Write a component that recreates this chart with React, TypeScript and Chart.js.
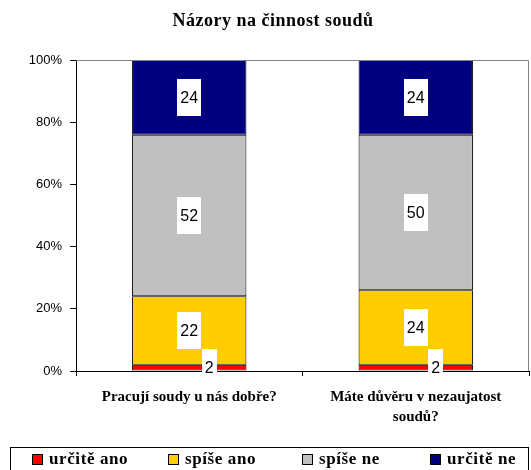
import React, { useEffect, useRef } from "react";
import { Chart, registerables } from "chart.js";

Chart.register(...registerables);

const title = "Názory na činnost soudů";
const categories: string[][] = [
  ["Pracují soudy u nás dobře?"],
  ["Máte důvěru v nezaujatost", "soudů?"],
];
const seriesNames = ["určitě ano", "spíše ano", "spíše ne", "určitě ne"];
const urciteAno = [2, 2];
const spiseAno = [22, 24];
const spiseNe = [52, 50];
const urciteNe = [24, 24];
const seriesColors = ["#FF0000", "#FFCC00", "#C0C0C0", "#000080"];
const yTicks = [0, 20, 40, 60, 80, 100];

const SERIF = "'Liberation Serif', 'Times New Roman', serif";
const SANS = "'Liberation Sans', Arial, sans-serif";

const decorPlugin = {
  id: "decor",
  afterDraw(chart: any) {
    const ctx = chart.ctx;
    const a = chart.chartArea;
    ctx.save();
    // plot area top/right border
    ctx.strokeStyle = "#808080";
    ctx.lineWidth = 1;
    ctx.beginPath();
    ctx.moveTo(a.left, a.top + 0.5);
    ctx.lineTo(a.right - 0.5, a.top + 0.5);
    ctx.lineTo(a.right - 0.5, a.bottom);
    ctx.stroke();
    // title
    ctx.fillStyle = "#000";
    ctx.font = `bold 18px ${SERIF}`;
    (ctx as any).letterSpacing = "0.5px";
    ctx.textAlign = "center";
    ctx.textBaseline = "middle";
    ctx.fillText(title, 273, 21);
    // legend box
    ctx.strokeStyle = "#000";
    ctx.strokeRect(10.5, 447.5, 518, 30);
    const xs = [32, 168, 302, 430];
    ctx.font = `bold 17px ${SERIF}`;
    (ctx as any).letterSpacing = "0.6px";
    ctx.textAlign = "left";
    seriesNames.forEach((n, i) => {
      ctx.fillStyle = seriesColors[i];
      ctx.fillRect(xs[i], 454, 11, 11);
      ctx.strokeStyle = "#000";
      ctx.strokeRect(xs[i] + 0.5, 454.5, 10, 10);
      ctx.fillStyle = "#000";
      ctx.fillText(n, xs[i] + 17, 460);
    });
    ctx.restore();
  },
};

const labelPlugin = {
  id: "segLabels",
  afterDatasetsDraw(chart: any) {
    const ctx = chart.ctx;
    ctx.save();
    ctx.font = `16px ${SANS}`;
    ctx.textAlign = "center";
    ctx.textBaseline = "middle";
    chart.data.datasets.forEach((ds: any, di: number) => {
      const meta = chart.getDatasetMeta(di);
      meta.data.forEach((el: any, i: number) => {
        const v = ds.data[i];
        const txt = String(v);
        const h = Math.abs(el.base - el.y);
        let cx = el.x;
        const cy = (el.y + el.base) / 2;
        if (h < 12) cx += 20;
        const w = ctx.measureText(txt).width + 6;
        const bh = 37;
        ctx.fillStyle = "#fff";
        ctx.fillRect(Math.round(cx - w / 2), Math.round(cy - bh / 2), Math.round(w), bh);
        ctx.fillStyle = "#000";
        ctx.fillText(txt, cx, cy + 1);
      });
    });
    ctx.restore();
  },
};

export default function App() {
  const ref = useRef<HTMLCanvasElement>(null);
  useEffect(() => {
    if (!ref.current) return;
    const data = [urciteAno, spiseAno, spiseNe, urciteNe];
    const chart = new Chart(ref.current, {
      type: "bar",
      data: {
        labels: categories as any,
        datasets: data.map((d, i) => ({
          label: seriesNames[i],
          data: d,
          backgroundColor: seriesColors[i],
          borderColor: "#000",
          borderWidth: 1,
          borderSkipped: false,
          categoryPercentage: 1,
          barPercentage: 0.505,
        })),
      },
      options: {
        animation: false,
        responsive: false,
        maintainAspectRatio: false,
        layout: { padding: { top: 60, left: 0, right: 2, bottom: 0 } },
        plugins: { legend: { display: false }, title: { display: false }, tooltip: { enabled: false } },
        scales: {
          x: {
            stacked: true,
            afterFit: (s: any) => { s.height = 99; },
            grid: { drawOnChartArea: false, drawTicks: true, tickLength: 5, color: "#000", offset: true },
            border: { color: "#000" },
            ticks: {
              color: "#000",
              font: { family: SERIF, size: 15, weight: "bold", lineHeight: 1.33 },
              padding: 11,
              maxRotation: 0,
              autoSkip: false,
            },
          },
          y: {
            stacked: true,
            min: 0,
            max: 100,
            afterFit: (s: any) => { s.width = 76; },
            afterBuildTicks: (s: any) => { s.ticks = yTicks.map((v) => ({ value: v })); },
            grid: { drawOnChartArea: false, drawTicks: true, tickLength: 6, color: "#000" },
            border: { color: "#000" },
            ticks: {
              color: "#000",
              font: { family: SANS, size: 13 },
              padding: 8,
              callback: (v: any) => v + "%",
            },
          },
        },
      },
      plugins: [labelPlugin, decorPlugin],
    });
    return () => chart.destroy();
  }, []);
  return (
    <div style={{ position: "absolute", left: 0, top: 0, width: 531, height: 470, background: "#fff" }}>
      <canvas ref={ref} width={531} height={470} style={{ width: 531, height: 470 }} />
    </div>
  );
}
